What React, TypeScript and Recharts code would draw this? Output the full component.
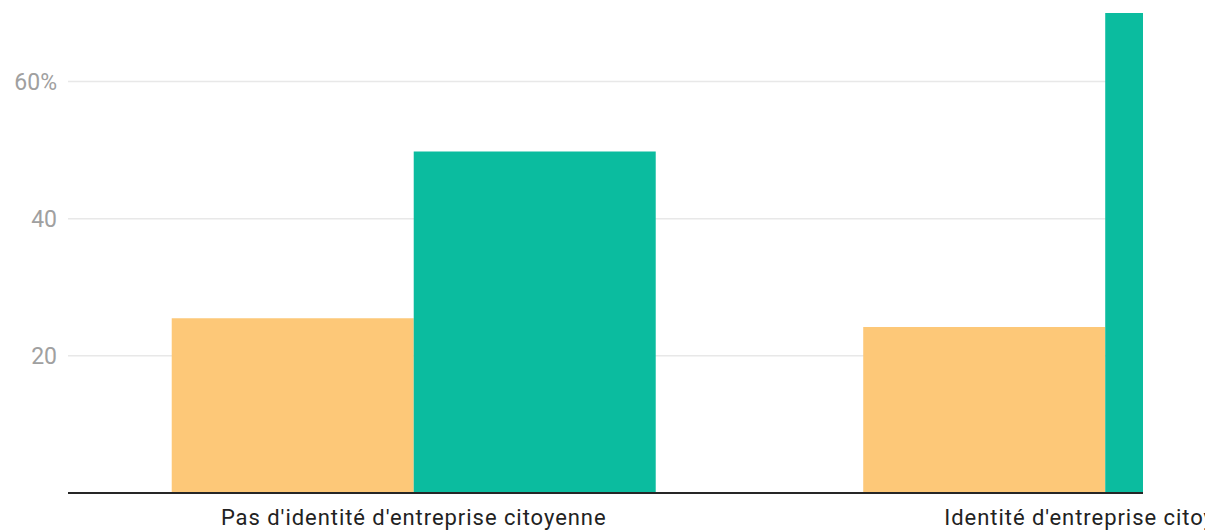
import React from 'react';
import { BarChart, Bar, XAxis, YAxis, CartesianGrid } from 'recharts';

const categories = ["Pas d'identité d'entreprise citoyenne", "Identité d'entreprise citoyenne"];
const seriesA = [25.5, 24.2];
const seriesB = [49.8, 74];
const yTicks = [20, 40, 60];

const data = categories.map((name, i) => ({ name, a: seriesA[i], b: seriesB[i] }));

const App: React.FC = () => {
  return (
    <div style={{ position: 'relative', width: 1205, height: 522, overflow: 'hidden', fontFamily: 'Roboto, sans-serif' }}>
      <BarChart
        width={1443}
        height={522}
        data={data}
        margin={{ top: 5, right: 0, bottom: 0, left: 8 }}
        barCategoryGap="15%"
        barGap={0}
      >
        <CartesianGrid vertical={false} horizontalValues={yTicks} stroke="#e8e8e8" strokeWidth={1.5} />
        <XAxis
          dataKey="name"
          height={37}
          tickLine={false}
          tickSize={14}
          tickMargin={2}
          axisLine={{ stroke: '#262626', strokeWidth: 2 }}
          tick={{ fill: '#222', fontSize: 22, fontFamily: 'Roboto', letterSpacing: 0.95 }}
          interval={0}
        />
        <YAxis
          width={52}
          domain={[0, 70]}
          allowDataOverflow
          ticks={yTicks}
          axisLine={false}
          tickLine={false}
          tickSize={9}
          tick={{ fill: '#a0a0a0', fontSize: 23, fontFamily: 'Roboto' }}
          tickFormatter={(v: number) => (v === 60 ? `${v}%` : `${v}`)}
        />
        <Bar dataKey="a" fill="#fdc878" isAnimationActive={false} />
        <Bar dataKey="b" fill="#0bbc9f" isAnimationActive={false} />
      </BarChart>
      <div style={{ position: 'absolute', left: 1135, top: 0, width: 100, height: 489, background: '#fff' }} />
    </div>
  );
};

export default App;
